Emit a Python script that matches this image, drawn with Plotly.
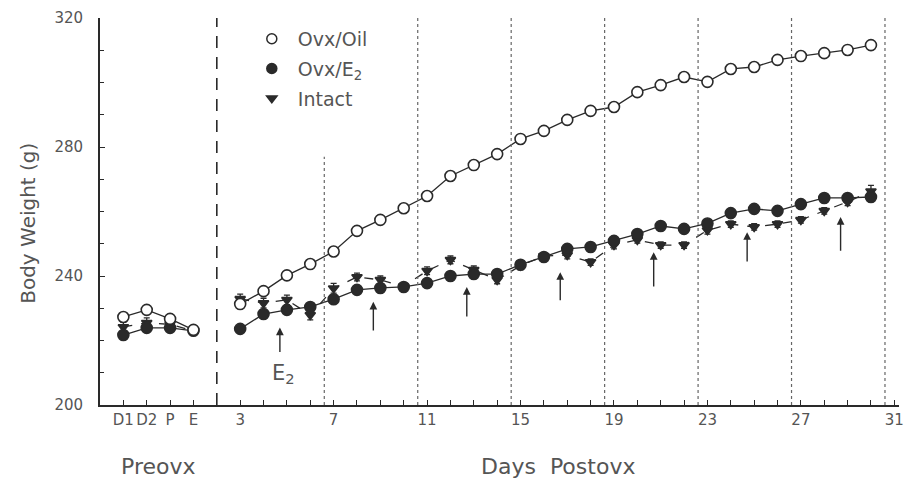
import plotly.graph_objects as go

# ---- data ----
pre_labels = ["D1", "D2", "P", "E"]
pre_x = [-2, -1, 0, 1]
post_days = list(range(3, 31))

oil_pre = [227.3, 229.5, 226.7, 223.3]
e2_pre = [221.7, 223.9, 223.9, 223.0]
intact_pre = [224.2, 225.5, 225.0, 223.0]

oil_post = [231.3, 235.3, 240.2, 243.7, 247.6, 254.0, 257.4, 261.0, 264.8, 271.0,
            274.4, 277.8, 282.5, 285.0, 288.4, 291.2, 292.4, 297.0, 299.2, 301.7,
            300.2, 304.2, 304.8, 307.0, 308.2, 309.1, 310.1, 311.6]
e2_post = [223.6, 228.2, 229.5, 230.4, 232.8, 235.7, 236.3, 236.6, 237.8, 240.0,
           240.6, 240.6, 243.5, 245.9, 248.4, 249.0, 250.9, 253.0, 255.5, 254.6,
           256.3, 259.5, 260.8, 260.2, 262.3, 264.2, 264.2, 264.5]
intact_post = [232.9, 231.6, 232.6, 227.9, 236.2, 239.7, 238.8, 236.8, 241.6, 245.0,
               241.9, 238.8, 243.2, 246.2, 246.5, 244.3, 249.6, 251.2, 249.6, 249.6,
               254.2, 256.1, 255.2, 256.1, 257.4, 260.2, 263.0, 266.3]
intact_err_pre = [1.5, 1.5, 1.2, 1.0]
intact_err_post = [1.5, 1.5, 1.5, 1.5, 1.5, 1.2, 1.2, 1.0, 1.2, 1.2,
                   1.2, 1.2, 1.2, 1.0, 1.2, 1.0, 1.2, 1.0, 1.0, 1.0,
                   1.2, 1.0, 1.0, 1.0, 1.0, 1.0, 1.2, 1.8]

post_tick_days = [3, 7, 11, 15, 19, 23, 27, 31]

arrow_x = [4.7, 8.7, 12.7, 16.7, 20.7, 24.7, 28.7]
arrow_tip = [224.0, 232.0, 236.6, 241.2, 247.4, 253.6, 258.3]
arrow_tail = [216.0, 222.6, 227.0, 232.0, 236.3, 244.0, 247.4]

divider_x = 2
dotted_x = [6.6, 10.6, 14.6, 18.6, 22.6, 26.6, 30.6]
dotted_top = [277, 320, 320, 320, 320, 320, 320]

# ---- style ----
INK = "#2a2a2a"
TXT = "#555555"
FONT = "DejaVu Sans"

fig = go.Figure()

def add_series(xs, ys, symbol, fill, dash, err=None, size=11):
    fig.add_trace(go.Scatter(
        x=xs, y=ys, mode="lines+markers", showlegend=False,
        line=dict(color=INK, width=1.3, dash=dash),
        marker=dict(symbol=symbol, size=size, color=fill,
                    line=dict(color=INK, width=1.6)),
        error_y=(dict(type="data", array=err, color=INK, thickness=1.3, width=3)
                 if err is not None else None),
    ))

add_series(pre_x, intact_pre, "triangle-down", INK, "dash", intact_err_pre, 9)
add_series(post_days, intact_post, "triangle-down", INK, "dash", intact_err_post, 9)
add_series(pre_x, e2_pre, "circle", INK, "solid")
add_series(post_days, e2_post, "circle", INK, "solid")
add_series(pre_x, oil_pre, "circle", "white", "solid")
add_series(post_days, oil_post, "circle", "white", "solid")

# legend-only entries
for i, (name, sym, fill, sz) in enumerate([(" Ovx/Oil", "circle-open", INK, 10),
                                           (" Ovx/E<sub>2</sub>", "circle", INK, 10),
                                           (" Intact", "triangle-down", INK, 9)]):
    fig.add_trace(go.Scatter(x=[None], y=[None], mode="markers", name=name,
                             legendgroup="g%d" % i,
                             marker=dict(symbol=sym, size=sz, color=fill,
                                         line=dict(color=INK, width=1.5))))

fig.add_shape(type="line", xref="x", yref="y", x0=divider_x, x1=divider_x,
              y0=200, y1=320, line=dict(color=INK, width=1.6, dash="12px,9px"))
for xv, top in zip(dotted_x, dotted_top):
    fig.add_shape(type="line", xref="x", yref="y", x0=xv, x1=xv, y0=200, y1=top,
                  line=dict(color="#666666", width=1.2, dash="dot"))

for xa, tip, tail in zip(arrow_x, arrow_tip, arrow_tail):
    fig.add_annotation(x=xa, y=tip, ax=xa, ay=tail, xref="x", yref="y",
                       axref="x", ayref="y", text="", showarrow=True,
                       arrowhead=2, arrowsize=1.1, arrowwidth=1.4, arrowcolor=INK)
fig.add_annotation(x=arrow_x[0] + 0.15, y=209.5, xref="x", yref="y",
                   text="E<sub>2</sub>", showarrow=False,
                   font=dict(family=FONT, size=21, color=TXT))

fig.add_annotation(x=-0.5, y=-0.16, xref="x", yref="paper", yanchor="middle",
                   text="Preovx", showarrow=False,
                   font=dict(family=FONT, size=22, color=TXT))
fig.add_annotation(x=16.6, y=-0.16, xref="x", yref="paper", yanchor="middle",
                   text="Days  Postovx",
                   showarrow=False, font=dict(family=FONT, size=22, color=TXT))
fig.add_annotation(x=-0.108, y=0.47, xref="paper", yref="paper",
                   text="Body Weight (g)", textangle=-90, showarrow=False,
                   font=dict(family=FONT, size=20, color=TXT))

tickvals = pre_x + post_tick_days
ticktext = pre_labels + [str(d) for d in post_tick_days]

fig.update_layout(
    width=904, height=478,
    margin=dict(l=100, r=0, t=18, b=73),
    paper_bgcolor="white", plot_bgcolor="white",
    font=dict(family=FONT, color=TXT),
    showlegend=True,
    legend=dict(x=0.19, y=0.995, xanchor="left", yanchor="top",
                traceorder="grouped", tracegroupgap=2,
                bgcolor="rgba(0,0,0,0)", font=dict(family=FONT, size=19, color=TXT),
                itemwidth=30),
    xaxis=dict(range=[-3, 31.2], tickmode="array", tickvals=tickvals,
               ticktext=ticktext, ticks="inside", ticklen=5, tickwidth=1.3,
               tickcolor=INK, ticklabeloverflow="allow",
               minor=dict(dtick=1, tick0=0, ticks="inside", ticklen=5,
                          tickwidth=1.3, tickcolor=INK),
               showline=True, linecolor=INK, linewidth=1.8,
               showgrid=False, zeroline=False,
               tickfont=dict(family=FONT, size=15, color=TXT)),
    yaxis=dict(range=[200, 320], tickmode="array",
               tickvals=[200, 240, 280, 320],
               ticks="inside", ticklen=5, tickwidth=1.3, tickcolor=INK,
               minor=dict(dtick=10, ticks="inside", ticklen=4, tickcolor=INK),
               showline=True, linecolor=INK, linewidth=1.8,
               showgrid=False, zeroline=False, ticklabelstandoff=12,
               tickfont=dict(family=FONT, size=15, color=TXT)),
)

fig.write_html("out.html")
